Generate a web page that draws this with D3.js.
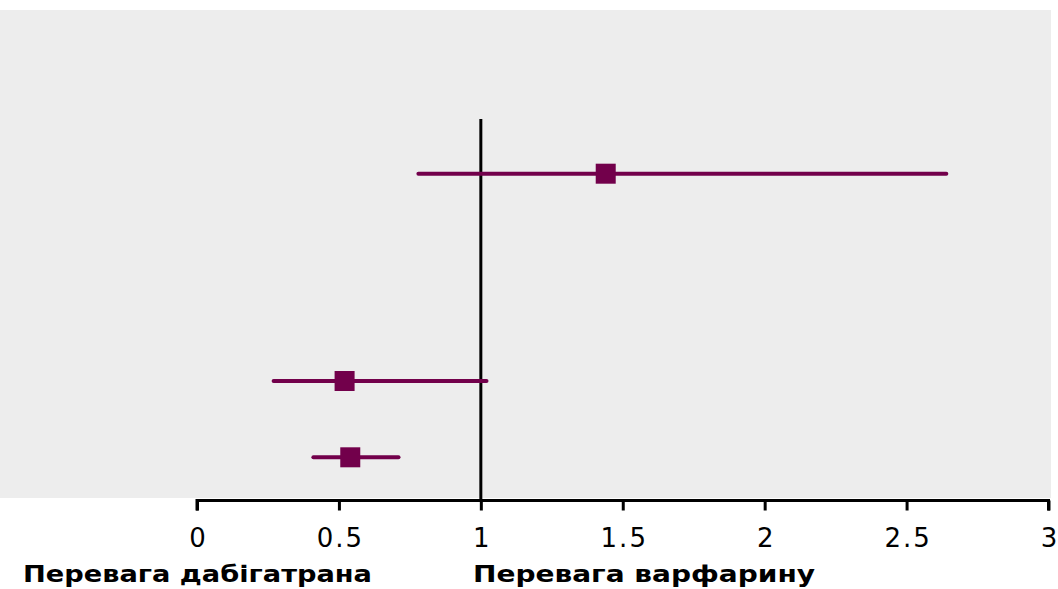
<!DOCTYPE html>
<html>
<head>
<meta charset="utf-8">
<script src="https://cdn.jsdelivr.net/npm/d3@7"></script>
<style>
  html, body { margin: 0; padding: 0; background: #ffffff; }
  svg { display: block; }
</style>
</head>
<body>
<svg id="chart" width="1058" height="589"></svg>
<script>
// Hazard ratios with 95% confidence intervals, one row per outcome
const rows = [0, 1, 2];
const estimates = [1.44, 0.52, 0.54];
const lower = [0.78, 0.27, 0.41];
const upper = [2.64, 1.02, 0.71];
const tickValues = [0, 0.5, 1, 1.5, 2, 2.5, 3];
const favourLabels = ["Перевага дабігатрана", "Перевага варфарину"];

const color = "#72004b";
const svg = d3.select("#chart");

const x = d3.scaleLinear().domain([0, 3]).range([197, 1048.5]);
// rows sit at uneven vertical positions
const rowY = d3.scaleOrdinal().domain(rows).range([173.7, 381, 457.3]);

// panel background
svg.append("rect")
  .attr("x", 0).attr("y", 10)
  .attr("width", 1051).attr("height", 488)
  .attr("fill", "#ededed");

// line of no effect
svg.append("line")
  .attr("x1", x(1)).attr("x2", x(1))
  .attr("y1", 119).attr("y2", 500)
  .attr("stroke", "#000").attr("stroke-width", 3);

// x axis
const axis = d3.axisBottom(x)
  .tickValues(tickValues)
  .tickSize(10)
  .tickPadding(18)
  .tickFormat(d => String(d));

const gx = svg.append("g")
  .attr("transform", "translate(0,500.5)")
  .call(axis);
gx.select(".domain")
  .attr("stroke", "#000").attr("stroke-width", 3)
  .attr("d", `M${x(0)},10V0H${x(3)}V10`);
gx.selectAll(".tick line").attr("stroke", "#000").attr("stroke-width", 3);
gx.selectAll(".tick text")
  .attr("fill", "#000")
  .attr("dx", "1px")
  .style("font-family", "'DejaVu Sans', Verdana, sans-serif")
  .style("font-size", "26px")
  .style("letter-spacing", "2px");

// confidence intervals
svg.append("g").selectAll("line")
  .data(rows)
  .join("line")
  .attr("x1", i => x(lower[i]))
  .attr("x2", i => x(upper[i]))
  .attr("y1", i => rowY(i))
  .attr("y2", i => rowY(i))
  .attr("stroke", color)
  .attr("stroke-width", 4)
  .attr("stroke-linecap", "round");

// point estimates
const s = 20;
svg.append("g").selectAll("rect")
  .data(rows)
  .join("rect")
  .attr("x", i => x(estimates[i]) - s / 2)
  .attr("y", i => rowY(i) - s / 2)
  .attr("width", s).attr("height", s)
  .attr("fill", color);

// direction labels under the axis, set in a wide bold face
const labelX = [23, 473];
const labelW = [349, 342];
svg.append("g").selectAll("text")
  .data(favourLabels)
  .join("text")
  .attr("x", (d, i) => labelX[i])
  .attr("y", 582)
  .attr("textLength", (d, i) => labelW[i])
  .attr("lengthAdjust", "spacingAndGlyphs")
  .attr("fill", "#000")
  .style("font-family", "'DejaVu Sans', Verdana, sans-serif")
  .style("font-weight", "bold")
  .style("font-size", "23px")
  .text(d => d);
</script>
</body>
</html>
